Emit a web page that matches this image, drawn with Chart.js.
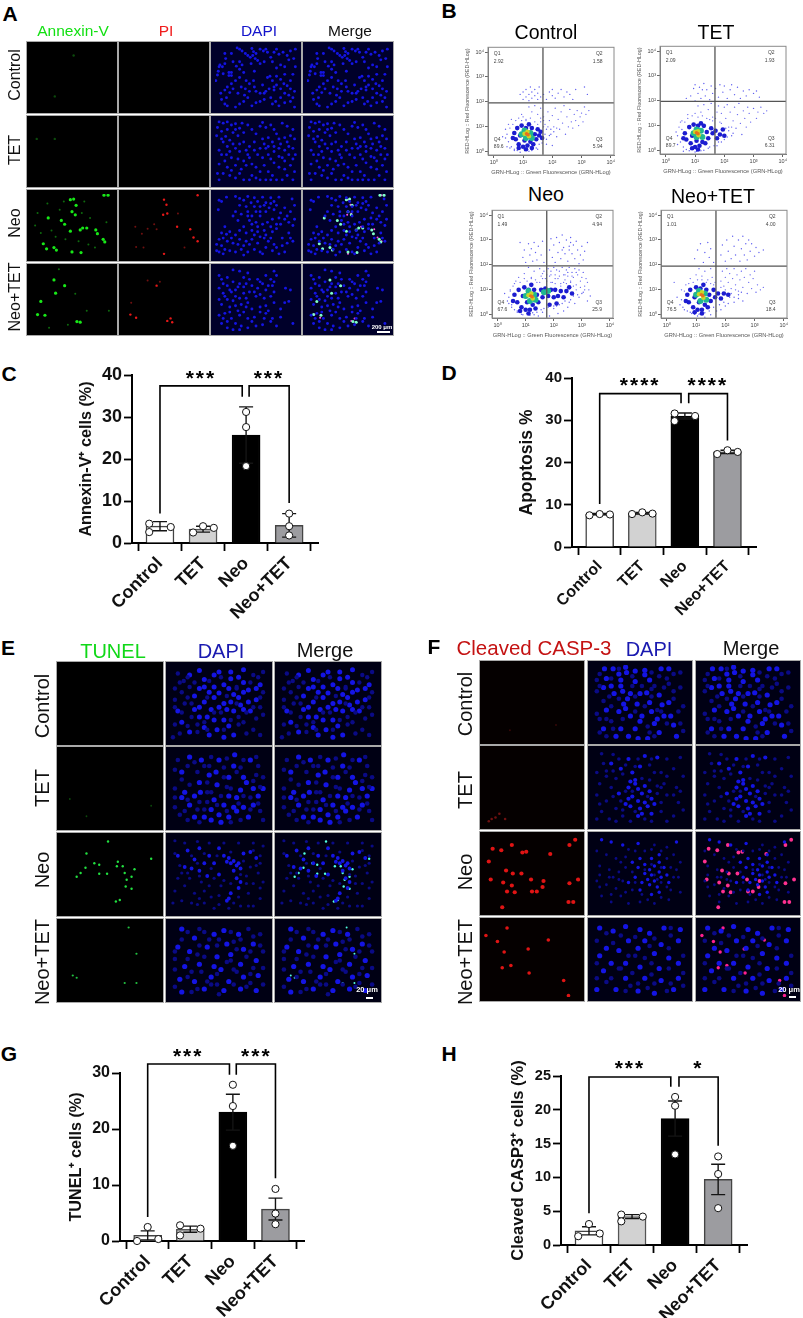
<!DOCTYPE html>
<html>
<head>
<meta charset="utf-8">
<script src="https://cdn.jsdelivr.net/npm/chart.js@4"></script>
<style>
body { margin:0; background:#fff; }
#page { position:relative; width:803px; height:1318px; overflow:hidden; font-family:"Liberation Sans",Arial,sans-serif; }
#page canvas { position:absolute; }
.tile { outline:1px solid #a9a9a9; }
.t { position:absolute; white-space:nowrap; transform:translate(-50%,-50%); line-height:1; }
.r { transform:translate(-50%,-50%) rotate(-90deg); }
.bar { position:absolute; background:#fff; height:2px; }
</style>
</head>
<body>
<div id="page"></div>
<script>
// bar chart data
const groups = ['Control', 'TET', 'Neo', 'Neo+TET'];

const annexinMean = [4, 3.3, 25.7, 4.2];
const annexinErr = [1.1, 0.7, 6.7, 2.8];
const annexinDots = [[-0.25,4.6],[-0.25,2.6],[0.25,3.8],[0.77,2.5],[1,4],[1.25,3.6],[2,31.2],[2,27.6],[2,18.3],[3,7],[3,4],[3,1.8]];
const apoptosisMean = [7.8, 8, 31, 22.5];
const apoptosisErr = [0.15, 0.2, 0.7, 0.4];
const apoptosisDots = [[-0.24,7.5],[0,7.8],[0.24,7.7],[0.76,7.8],[1,8.2],[1.24,7.9],[1.76,31.6],[1.76,29.8],[2.24,31],[2.76,22],[3,22.9],[3.24,22.5]];
const tunelMean = [1, 2.1, 23, 5.7];
const tunelErr = [0.8, 0.55, 3.2, 1.95];
const tunelDots = [[0,2.5],[-0.25,0],[0.25,0.35],[0.76,2.8],[0.76,1],[1.24,2.2],[2,27.9],[2,24.1],[2,17],[3,9.3],[3,4.9],[3,3]];
const caspMean = [2.1, 4.2, 18.7, 9.7];
const caspErr = [0.6, 0.3, 2.6, 2.25];
const caspDots = [[0,3.1],[-0.25,1.3],[0.25,1.7],[0.75,4.5],[0.75,3.5],[1.25,4.2],[2,21.9],[2,20.6],[2,13.4],[3,13.1],[3,10.5],[3,5.45]];

// significance brackets: x1, y1, top, x2, y2
const annexinBrackets = [[0,7,37.4,1.91,34.8],[2.07,34.8,37.4,3,9.5]];
const annexinStars = [[0.95,40,'***'],[2.53,40,'***']];
const apoptosisBrackets = [[0,10.2,36.3,1.91,34],[2.09,34,36.3,3,25.2]];
const apoptosisStars = [[0.95,39,'****'],[2.54,39,'****']];
const tunelBrackets = [[0,4.3,31.6,1.92,29.7],[2.08,29.7,31.6,3,11.2]];
const tunelStars = [[0.95,33.5,'***'],[2.55,33.5,'***']];
const caspBrackets = [[0,4.7,24.85,1.9,23.4],[2.09,23.4,24.85,3,14.7]];
const caspStars = [[0.95,26.6,'***'],[2.54,26.6,'*']];

// flow cytometry, values in decades (log10) on both axes
const flowTicks = [0, 1, 2, 3, 4];
const ctlGateX = [[1.68,-0.13],[1.68,4.19]];
const ctlGateY = [[-0.2,1.96],[4.11,1.96]];
const tetGateX = [[1.68,-0.13],[1.68,4.19]];
const tetGateY = [[-0.2,1.98],[4.11,1.98]];
const neoGateX = [[1.75,-0.13],[1.75,4.19]];
const neoGateY = [[-0.2,1.96],[4.11,1.96]];
const ntGateX = [[1.68,-0.13],[1.68,4.19]];
const ntGateY = [[-0.2,1.95],[4.11,1.95]];
const ctlQ = ['2.92','1.58','89.6','5.94'];
const tetQ = ['2.09','1.93','89.7','6.31'];
const neoQ = ['1.49','4.94','67.6','25.9'];
const ntQ = ['1.01','4.00','76.5','18.4'];

const ctlSparse = [.9,2.3,1,2.1,1,2.4,1.1,2.2,1.1,2.5,1.2,2.05,1.2,2.3,1.25,2.6,1.3,2.15,1.3,2.4,1.4,2.25,1.4,2.5,1.5,2.1,1.5,2.35,1.55,2.6,1.6,2.2,1.7,2.3,1.8,2.1,1.9,2.4,2,2.25,2,2.5,2.1,2.15,2.2,2.35,2.3,2.5,2.4,2.2,2.5,2.4,2.6,2.3,2.7,2.1,2.8,2.5,3.1,2.6,3.2,2.3,1.2,1.8,1.3,1.6,1.4,1.85,1.5,1.5,1.6,1.75,1.7,1.4,1.75,1.1,1.8,.9,1.85,1.6,1.9,1.25,1.95,.7,2,1.45,2.05,1,2.1,1.75,2.15,.6,2.2,1.3,2.25,.9,2.3,1.6,2.35,1.15,2.4,1.85,2.45,.7,2.5,1.4,2.55,1,2.6,1.7,2.65,1.2,2.7,.95,2.75,1.5,2.8,1.25,2.85,1.65,2.9,1.05,2.95,1.4,3,1.55,3.05,1.2,3.1,1.8,3.15,1.5,3.25,1.65,.4,.9,.3,.6,.45,.2,.6,1.3,.7,.05,.95,1.5,.9,-.02,1.1,1.25,1.35,.15,1.5,.1,1.8,.3,2,.25,.45,.7,.5,.4,.55,.95,.6,.2,.65,1.1,.7,.1,.75,1.25,.8,.05,.85,1.35,.95,1.25,1,1.4,1.05,.05,1.1,1.3,1.2,.02,1.25,1.35,1.3,.05,1.4,1.2,1.45,.15,1.5,1.1,1.55,.3,1.6,1.2,1.65,.35,1.7,1,1.75,.7,1.8,.5,1.85,1,1.9,.65,1.95,.9,2.05,.8,2.15,.95,.5,1.1,.4,.55,.55,.15,1.6,1.35,1.7,1.25];
const ctlHalo = [.7,.75,.75,.5,.8,.95,.85,.3,.9,.65,.95,1.05,1,.2,1.05,.45,1.1,.95,1.15,.25,1.2,1.1,1.25,.4,1.3,.95,1.35,.3,1.4,.7,1.45,.5,1.5,.9,1.55,.65,1.6,.8,.65,.55,.85,.15,1.1,.1,1.3,.15,1.65,.55];
const ctlCyan = [.95,.7,1.05,.85,1.1,.55,1.25,.75,1.3,.55];
const ctlGreen = [1.05,.72,1.15,.8,1.2,.62];
const ctlHot = [1.12,.72,1.17,.68];
const tetSparse = [.85,2.2,.95,2.5,1,2,1,2.65,1.1,2.3,1.15,2.55,1.2,2.1,1.25,2.45,1.3,2.7,1.35,2.2,1.4,2.45,1.5,2.05,1.55,2.6,1.6,2.3,1.7,2.5,1.8,2.15,1.85,2.65,1.95,2.35,2,2.6,2.1,2.1,2.2,2.45,2.25,2.65,2.35,2.25,2.45,2.55,2.55,2.1,2.65,2.4,2.75,2.2,2.85,2.45,3,2.3,3.1,2.4,3.2,2.15,.7,2.1,1.1,1.8,1.2,1.55,1.3,1.85,1.45,1.65,1.55,1.9,1.6,1.35,1.75,1.55,1.8,1.8,1.85,1.15,1.9,1.5,2,1.75,2,.45,2.05,1.3,2.1,1.85,2.15,.95,2.2,1.55,2.25,.6,2.3,1.2,2.35,1.75,2.4,.9,2.45,1.45,2.5,1.9,2.55,1.1,2.6,.65,2.65,1.6,2.7,1.3,2.75,.95,2.8,1.75,2.85,1.5,2.9,1.15,3,1.7,3.1,1.3,3.15,1.55,3.25,1.75,3.35,1.5,3.45,1.6,.35,.75,.4,.25,.55,1.2,.6,-.02,.75,1.45,.85,.05,1,-.05,1.2,0,1.5,.15,1.75,.2,1.9,.35,.4,.6,.45,.95,.5,.35,.55,.85,.6,.15,.65,1.15,.7,.05,.75,1.3,.8,0,.9,1.4,1,1.5,1.05,-.02,1.1,1.35,1.25,1.4,1.3,.02,1.4,1.3,1.45,.1,1.5,1.25,1.6,1.2,1.65,.2,1.7,1.3,1.8,.35,1.9,1.1,2.05,.9,2.1,.55,2.15,.8,2.25,.95,2.3,.7,.5,1.15];
const tetHalo = [.65,.7,.7,.45,.8,.95,.85,.3,.9,.6,.95,1.05,1,.15,1.05,.4,1.1,1,1.15,.2,1.2,1.1,1.25,.35,1.3,1,1.35,.3,1.4,.75,1.45,.5,1.55,.9,1.6,.7,1.7,.8,1.85,.65,1.95,.85,2,.6,1.75,.5,.6,.5,.9,.1,1.1,.05];
const tetCyan = [.95,.7,1.05,.85,1.05,.55,1.2,.8,1.25,.55];
const tetGreen = [1,.75,1.1,.78,1.12,.62];
const tetHot = [1.05,.72,1.1,.68];
const neoSparse = [.8,2.9,.9,2.3,.95,2.6,1,2.1,1.1,2.85,1.15,2.4,1.2,2.65,1.25,2.15,1.3,2.9,1.35,2.5,1.4,2.2,1.45,2.75,1.55,2.4,1.6,2.95,1.65,2.1,1.85,2.6,1.9,3.05,1.95,2.3,2,2.8,2.05,2.1,2.1,3.1,2.15,2.5,2.2,2.9,2.25,2.25,2.3,3.2,2.35,2.7,2.4,2.45,2.45,3,2.5,2.15,2.55,2.75,2.6,3.1,2.65,2.45,2.7,2.8,2.75,2.25,2.8,2.95,2.85,2.6,2.9,2.05,2.95,2.4,3,2.75,3.05,2.2,3.1,2.55,3.2,2.9,2.3,2.6,2.55,2.6,2.6,2.9,1.1,1.9,1.2,1.5,1.3,1.75,1.4,1.3,1.5,1.85,1.55,1.55,1.65,1.75,1.7,1.45,1.8,1.85,1.85,1.55,1.9,1.75,1.95,1.3,2,1.9,2.05,1.6,2.1,1.8,2.15,1.45,2.2,1.75,2.25,1.25,2.3,1.9,2.35,1.6,2.4,1.4,2.45,1.8,2.5,1.55,2.55,1.9,2.6,1.3,2.65,1.7,2.7,1.5,2.75,1.85,2.8,1.2,2.85,1.6,2.9,1.8,2.95,1.35,3,1.5,3.05,1.7,3.1,1.15,3.15,1.45,3.2,1.3,3.25,1,3.05,.9,2.9,.7,2.75,.45,2.6,.6,2.5,.3,2.35,.15,2.15,.05,2,.35,1.85,-.05,1.6,.1,1.45,-.05,1.3,0,.9,0,.7,.15,.5,.3,.35,.55,.25,.85,.45,1,.6,1.25,.75,1.5,.95,1.65,.4,.45,3.3,.75,3.2,.55,.4,.7,.45,.95,.5,.4,.55,1.15,.6,.2,.65,1.35,.7,.1,.8,1.3,.85,.02,.95,1.45,1.05,1.35,1.15,-.02,1.2,1.45,1.25,.08,1.35,1.4,1.4,.1,1.5,1.3,1.55,.2,1.6,1.45,1.65,.25,1.75,1.35,1.8,.3,1.9,1.3,2,.25,2.05,1.25,2.1,.35,2.2,.4,2.25,1.15,2.3,.45,2.35,1.3,2.4,.55,2.45,1.25,2.55,.5,2.6,1.35,2.7,.75,2.7,1.15,2.8,1,2.85,.8,2.95,1.1,3,.85,3.1,1,1.6,1.65,1.75,1.6,1.9,1.6,2.05,1.45,2.2,1.55,2.4,1.6,2.5,1.7,2.65,1.55,2.8,1.7];
const neoHalo = [.6,.8,.7,.5,.75,1,.85,.3,.9,.75,.95,1.1,1,.2,1.05,.5,1.1,1,1.15,.2,1.2,1.2,1.25,.4,1.3,1,1.35,.25,1.4,.8,1.45,.5,1.55,1,1.6,.7,1.7,1.05,1.8,.75,1.9,1,2,.7,2.05,1,2.15,.75,2.25,.95,2.35,.7,2.45,.95,2.55,1.1,2.65,.85,.55,.55,.8,.15,1.1,.05,1.85,.4,2.1,.45];
const neoCyan = [1,.75,1.1,.95,1.15,.55,1.3,.8,1.35,.6,1.65,.9,1.8,.95];
const neoGreen = [1.1,.78,1.2,.85,1.25,.65];
const neoHot = [1.18,.75,1.23,.72];
const ntSparse = [.95,2.25,1.05,2.6,1.15,2.85,1.25,2.1,1.3,2.5,1.4,2.9,1.45,2.3,1.5,2.65,1.6,2.1,1.85,2.4,1.9,2.8,2,2.15,2.05,3,2.1,2.55,2.2,2.25,2.25,3.15,2.3,2.75,2.35,2.4,2.45,3,2.5,2.15,2.55,2.65,2.6,3.15,2.65,2.4,2.7,2.85,2.75,2.2,2.8,3,2.85,2.55,2.9,2.85,3,2.35,3.05,2.7,3.15,2.5,3.3,2.6,1.1,1.85,1.2,1.55,1.3,1.75,1.4,1.4,1.5,1.85,1.55,1.5,1.6,1.2,1.85,1.35,1.9,1.75,1.95,1.15,2,1.5,2.05,1.85,2.1,1.3,2.15,1.65,2.2,1.05,2.25,1.45,2.3,1.85,2.35,1.2,2.4,1.6,2.45,.95,2.5,1.4,2.55,1.75,2.6,1.1,2.65,1.5,2.7,1.85,2.75,.85,2.8,1.3,2.85,1.6,2.9,1.05,2.95,1.45,3,1.75,3.05,.9,3.1,1.2,3.2,1,3.3,1.1,2.6,.55,2.45,.65,2.3,.5,2.15,.7,2,.35,1.85,.2,1.7,.15,1.5,0,1.3,-.1,1.05,-.05,.85,.05,.6,.2,.45,.4,.35,.7,.5,1,.65,1.2,.8,1.45,1,1.6,.25,1.3,.5,.6,.55,.3,.6,.95,.7,.15,.75,1.25,.8,.1,.9,1.3,.95,.02,1.05,1.4,1.1,.02,1.2,1.4,1.3,.08,1.35,1.3,1.45,.15,1.5,1.25,1.6,.3,1.65,1.3,1.8,.4,1.85,1.1,1.95,.5,2,1,2.1,.45,2.2,.85,2.3,.7,2.35,1,2.45,.8,2.55,.9];
const ntHalo = [.7,.8,.75,.5,.8,1,.9,.3,.95,.7,1,1.1,1.05,.2,1.1,.5,1.15,1.05,1.2,.2,1.25,1.2,1.3,.4,1.35,1,1.4,.3,1.45,.8,1.5,.55,1.6,1,1.65,.7,1.75,.85,1.85,.65,1.95,.85,2.1,.8,.65,.55,.95,.1,1.2,.05];
const ntCyan = [1,.8,1.1,.95,1.15,.55,1.3,.85,1.35,.6];
const ntGreen = [1.1,.82,1.2,.9,1.25,.68];
const ntHot = [1.18,.8,1.23,.76];

const aDapiCtl = [12,12,13,20,12,28,6,30,5,33,9,33,3,46,1,55,17,42,20,42,17,47,20,47,27,3,30,5,33,8,37,12,40,15,43,18,46,15,49,20,52,23,50,12,47,9,55,5,59,8,64,10,60,25,55,28,75,5,78,13,83,10,88,15,92,8,98,5,96,20,90,22,80,30,85,33,98,33,30,25,33,30,30,37,35,42,30,50,25,55,20,60,15,65,12,70,18,74,14,82,8,85,28,75,32,65,37,68,42,60,47,55,50,72,55,75,60,75,64,50,67,48,70,55,75,48,72,65,66,68,72,70,80,53,84,60,88,63,92,68,97,72,85,75,80,82,74,88,70,92,78,95,85,90,92,88,97,97,40,82,35,88,30,92,25,97,45,95,15,95,50,90,55,88,60,85,4,40,10,44,22,25,26,32,44,28,48,40,38,55,42,72,36,78,22,68,7,75,12,92,48,65,58,62,62,72,68,82,75,62,80,68,90,78,95,82,92,55,95,45,85,45,75,35,70,25,68,18,62,5,72,10,45,4,20,12];
const aDapiTet = [5,3,10,5,15,3,20,8,25,6,25,15,3,12,8,18,15,15,22,20,28,25,30,13,35,20,33,5,40,8,45,15,50,22,55,10,58,4,62,12,68,8,72,15,75,22,82,5,88,10,95,15,92,25,85,28,78,30,70,35,65,28,60,38,55,45,48,35,42,42,35,35,38,48,30,50,22,38,15,42,10,35,5,48,8,55,14,55,20,60,28,62,35,65,42,60,45,70,50,75,38,72,32,78,25,72,15,75,10,85,18,88,25,92,30,85,45,88,50,92,42,95,58,60,65,55,72,50,78,45,85,48,95,45,90,55,82,60,72,68,60,72,55,82,65,82,70,88,78,75,85,78,92,72,97,82,88,88,75,95,82,95,95,95,5,95,62,95,2,25,8,30,13,26,18,32,30,38,25,45,40,55,52,55,58,30,65,42,72,42,80,38,88,35,97,30,98,55,90,42,68,62,48,48,12,65,5,70,3,85,20,80,35,95,55,95,68,95,85,65,78,58,95,62,62,45,18,50];
const aDapiNeo = [5,10,8,12,4,25,14,5,25,4,30,7,35,10,40,4,48,6,52,12,58,5,62,14,68,6,72,12,60,18,55,20,30,18,38,20,25,28,22,35,32,32,40,28,45,35,50,28,55,35,62,28,66,22,72,25,80,30,85,22,92,28,97,18,94,8,78,5,70,40,64,45,58,48,50,45,42,42,85,40,90,45,95,50,80,48,75,55,70,60,60,58,52,60,45,58,38,62,30,58,25,65,18,60,10,70,5,72,2,80,8,82,15,75,22,78,30,72,38,75,45,72,52,78,60,70,65,75,72,80,82,70,90,62,88,78,95,75,12,52,10,95,18,90,25,92,32,88,40,92,48,88,55,92,62,85,70,90,78,95,85,92,58,95,35,97,5,92,8,62,14,64,20,70,28,80,35,82,42,80,48,65,55,68,62,65,68,52,75,48,78,38,88,35,97,40,92,70,82,82,75,85,68,70,45,48,35,52,40,35,28,42,52,52,48,20,44,14,55,28,68,15,75,18,12,88,2,90];
const aDapiNt = [22,3,30,5,40,8,72,5,75,12,52,18,55,22,5,12,8,18,15,15,22,22,30,25,38,25,45,28,52,32,65,28,70,28,72,22,15,28,5,32,10,40,20,38,25,35,35,40,42,38,50,45,60,48,68,45,30,48,22,52,15,50,5,50,8,58,25,60,32,58,40,55,55,62,62,60,65,68,72,55,85,55,90,53,92,35,86,32,12,72,18,70,5,75,10,80,15,85,30,75,35,70,40,80,45,85,25,88,32,92,40,95,30,98,50,92,58,90,60,80,68,85,75,92,80,78,10,25,18,35,28,30,35,30,48,38,55,42,62,35,58,25,25,45,38,48,12,45,18,62,28,68,38,62,45,65,20,80,8,88,55,70,62,72,70,80,48,78,72,38,62,12,68,18,35,15,42,18,80,65,95,88,15,95,22,98];
const aGreenCtl = [52,15,29,80];
const aGreenTet = [29,30,7,30];
const aGreenNeo = [89,2,94,2,52,8,48,9,55,18,50,28,54,33,21,38,37,42,41,48,68,54,79,57,48,59,81,63,88,72,90,76,15,79,28,85,19,87,50,92,61,93,31,89,63,54,60,57];
const aGreenNeoDim = [8,30,20,15,35,25,62,30,72,38,25,58,30,68,42,72,58,75,70,80,78,85,12,62,5,50,92,45,40,12,65,12];
const aGreenNt = [41,28,28,19,30,40,12,53,8,74,17,75,56,85,60,86];
const aGreenNtDim = [54,41,34,2,45,90,22,95,68,68,95,68];
const aRedNeo = [50,9,91,2,53,17,49,33,54,31,66,52,82,56,86,69,91,75,50,95];
const aRedNeoDim = [25,85,16,84,38,48,23,63,67,31,41,56,75,85,30,55,15,52];
const aRedNt = [41,28,9,74,16,79,58,80,54,84,60,86];
const aRedNtDim = [30,20,10,55,45,22];

const eDapiCtl = [20,12,30,6,35,18,45,12,50,8,62,8,75,5,70,15,62,17,75,22,55,25,45,28,35,28,30,30,40,35,50,36,60,30,65,38,75,35,70,42,80,32,88,30,92,25,88,45,80,48,72,52,62,48,55,50,45,42,35,48,30,55,42,58,50,55,58,58,65,60,75,58,82,60,38,68,45,72,55,72,48,85,60,80,65,92,40,92,55,95,35,82,30,68,25,58,20,88,12,75,8,60,25,40];
const eDimCtl = [8,10,14,20,5,30,12,35,20,28,5,45,15,50,92,55,95,65,88,70,75,75,85,85,92,92,10,90,28,78,70,68,95,8,85,12,3,95,22,68,78,90,10,22,18,15,25,22,40,20,52,15,68,28,82,22,90,15,95,35,85,55,92,42,78,62,68,50,5,55,12,62,18,42,22,50,38,42,58,40,68,30,52,62,45,62,35,75,28,88,38,85,55,85,70,78,62,72,5,78,18,80];
const eDapiTet = [66,5,20,8,32,12,50,12,47,28,65,20,82,12,75,35,60,35,48,45,30,42,25,60,31,55,15,55,20,72,12,62,45,65,60,60,68,62,72,52,65,75,55,72,50,85,42,78,35,88,42,92,52,95,60,88,68,80,75,75,80,88,85,72,90,60,95,50,85,50,78,42,40,32,12,28,25,88];
const eDimTet = [8,12,12,38,28,28,35,20,42,8,55,22,72,22,90,20,95,35,88,32,5,50,5,75,10,85,18,92,30,68,58,48,82,62,92,80,95,92,72,92,38,55,5,25,18,20,25,15,40,20,58,10,75,12,88,8,55,35,68,28,85,40,92,48,20,45,38,42,42,55,5,62,18,65,28,78,38,68,52,60,62,50,75,60,90,70,70,70,58,80,48,72,35,78,15,80,82,78,30,95,62,95];
const eDapiNeo = [55,25,60,28,58,33,62,35,65,32,68,38,70,35,72,42,65,45,68,55,72,60,70,68,62,75,60,82,58,85,15,40,22,42,30,45,25,30,35,35,40,25,50,15,45,35,38,52,50,50,75,22,82,20,88,28,30,15,18,18,8,25];
const eDimNeo = [5,5,15,8,28,6,40,8,55,8,70,8,85,8,95,12,92,35,82,40,90,48,95,60,85,62,80,75,92,82,85,92,72,92,60,95,50,90,42,80,35,72,25,75,15,65,8,55,5,72,12,85,28,90,40,65,52,65,78,52,20,55,32,60,22,25,35,22,48,25,62,20,75,32,88,38,78,62,62,62,55,58,45,55,30,52,18,48,10,38,5,22,35,88,45,95,22,88,70,80,92,25,12,48,28,35,42,42,50,78,65,88,80,92,92,68,3,88,30,82,72,50,85,18];
const eDapiNt = [55,10,45,15,25,20,12,8,70,15,58,28,38,32,20,38,48,45,62,42,75,35,85,28,8,32,30,55,52,62,72,55,88,50,15,58,42,72,60,78,75,72,90,70,25,78,10,75,35,88,55,90,72,88,88,90,12,92,45,58];
const eDimNt = [30,8,80,8,92,15,5,48,40,22,65,25,28,42,95,38,58,52,78,45,22,65,65,62,5,62,48,82,82,80,22,92,95,82,18,12,35,12,50,22,62,12,72,22,85,18,12,22,30,30,48,30,68,35,82,38,18,48,35,45,62,50,85,60,5,85,32,65,48,68,68,65,82,68,95,60,18,72,28,88,42,82,65,82,78,85,50,95,5,38,92,30,38,78];
const eGreenTet = [9,64,26,87,92,73];
const eGreenNeo = [48,6,26,22,39,37,34,35,58,33,63,39,57,39,75,43,92,29,65,48,72,53,67,57,72,69,66,66,60,84,56,86,20,48,16,53,25,41,47,49,39,49];
const eGreenNt = [12,70,16,73,77,41,77,80,69,6,65,80];

const fDapiCtl = [13,5,22,5,35,3,45,8,55,7,72,5,80,5,15,18,28,12,36,10,30,20,45,22,55,13,60,20,12,30,20,28,30,28,40,38,50,38,57,37,70,40,32,35,23,38,37,45,47,52,60,50,73,53,80,50,15,60,35,58,33,52,28,62,40,68,52,68,62,62,68,72,75,68,82,68,50,75,65,78,45,85,30,85,12,85,25,95,38,95,48,98,58,98,70,90,88,95,85,80];
const fDimCtl = [5,20,5,35,12,48,20,55,5,65,8,90,62,32,80,25,85,35,92,30,95,55,90,62,60,90,20,75,15,72,70,15,85,12,8,12,20,18,28,5,42,15,62,10,78,18,92,10,8,28,18,42,28,45,42,28,52,28,65,28,75,30,85,45,68,60,62,42,45,62,8,72,22,85,32,72,58,82,78,78,92,78,95,88,65,95,15,95,72,62,55,55,45,42];
const fDapiTet = [40,42,45,45,38,50,48,52,55,48,52,58,60,55,42,62,48,68,55,70,38,65,62,65,58,75,50,78,40,75,35,72,65,72,52,85,48,88,62,85,30,25,42,30,50,22,68,10,55,8,38,12,20,18,45,40,28,58];
const fDimTet = [10,5,22,6,28,12,12,18,5,30,15,35,25,38,8,45,20,50,5,60,15,68,25,78,10,82,18,92,32,88,40,95,72,30,85,25,75,45,88,50,78,60,90,70,72,82,85,88,65,30,60,20,92,10,78,12,95,35,15,28,32,32,22,28,35,55,30,68,22,62,32,80,45,82,55,92,62,95,72,70,68,58,72,50,60,40,52,38,45,22,35,20,48,12,62,12,42,55,58,62,68,48,78,35,85,60,92,55,95,80,8,72,5,92,25,95,78,95];
const fDapiNeo = [60,45,65,40,70,35,55,50,62,52,70,48,75,42,58,58,65,60,72,55,60,65,68,68,52,62,78,52,45,55,48,42,55,38,62,30,70,25,42,35,50,30,10,5,20,8,32,12,48,10,88,8,38,62,70,75,62,78,50,72,80,62];
const fDimNeo = [5,20,15,25,25,30,35,28,8,40,18,45,28,48,5,60,15,65,25,70,35,75,10,80,20,88,38,90,50,88,65,90,80,85,92,75,90,55,92,35,85,25,78,15,65,12,22,55,32,60,88,45,45,20,38,18,55,20,62,18,72,20,30,35,35,42,42,48,28,58,18,55,8,52,8,68,20,78,30,80,42,72,45,62,52,78,58,85,72,82,82,72,85,55,82,42,78,30,72,62,65,52,55,45,62,38,72,42,78,68,68,58];
const fDapiNt = [8,8,22,12,35,6,50,10,60,15,75,8,92,10,38,25,55,25,72,30,90,25,15,35,28,38,48,35,8,45,65,42,80,48,35,55,20,55,50,60,70,62,90,55,12,65,35,75,55,75,72,78,90,75,5,90,25,90,48,92,65,95,85,90];
const fDimNt = [5,25,82,18,30,62,62,55,45,45,95,45,15,80,40,85,78,92,15,15,30,18,45,20,65,22,82,8,22,28,60,32,80,35,38,45,55,48,5,55,28,62,42,68,62,70,80,62,20,75,5,75,48,82,65,82,82,82,95,68,95,85,35,92,58,88];
const fRedCtl = [27,87,75,80];
const fRedTet = [16,85,8,92,5,95,12,90,22,92];
const fRedNeo = [9,17,18,19,29,12,40,22,44,21,95,5,89,12,5,34,23,46,30,50,39,50,7,58,20,62,49,58,62,60,89,63,29,66,32,75,24,74,50,74,55,74,61,68,88,88,93,88,19,95,69,24,98,58];
const fRedNt = [24,8,14,26,46,36,21,40,19,61,28,58,47,68,83,78,88,98,2,18,67,24];

function pts(flat) {
    const out = [];
    for (let i = 0; i < flat.length; i += 2) out.push({ x: flat[i], y: flat[i + 1] });
    return out;
}
function pairs(list) {
    return list.map(p => ({ x: p[0], y: p[1] }));
}

Chart.defaults.animation = false;
Chart.defaults.plugins.legend.display = false;
Chart.defaults.plugins.tooltip.enabled = false;
Chart.defaults.font.family = '"Liberation Sans", Arial, sans-serif';

const page = document.getElementById('page');
const BLUE = '#1414e4';
const DIM = '#0a0a86';

function addCanvas(left, top, w, h, cls) {
    const c = document.createElement('canvas');
    c.width = w;
    c.height = h;
    c.style.left = left + 'px';
    c.style.top = top + 'px';
    c.style.width = w + 'px';
    c.style.height = h + 'px';
    if (cls) c.className = cls;
    page.appendChild(c);
    return c;
}

function label(text, x, y, size, color, opts) {
    opts = opts || {};
    const d = document.createElement('div');
    d.className = 't' + (opts.rot ? ' r' : '');
    d.textContent = text;
    d.style.left = x + 'px';
    d.style.top = y + 'px';
    d.style.fontSize = size + 'px';
    d.style.color = color;
    if (opts.bold) d.style.fontWeight = 'bold';
    page.appendChild(d);
}

function scaleBar(x, y, w) {
    const d = document.createElement('div');
    d.className = 'bar';
    d.style.left = x + 'px';
    d.style.top = y + 'px';
    d.style.width = w + 'px';
    page.appendChild(d);
}

// one microscopy tile: layers are [points, colour, radius]
function tile(x, y, w, h, bg, layers) {
    const c = addCanvas(x, y, w, h, 'tile');
    c.style.background = bg;
    new Chart(c, {
        type: 'scatter',
        data: {
            datasets: layers.map(l => ({
                data: pts(l[0]),
                pointBackgroundColor: l[1],
                pointBorderWidth: 0,
                pointRadius: l[2]
            }))
        },
        options: {
            responsive: false,
            layout: { padding: 0 },
            scales: {
                x: { display: false, min: 0, max: 100 },
                y: { display: false, min: 0, max: 100, reverse: true }
            }
        }
    });
}

// bar chart with error bars, dots and brackets
const barExtras = {
    id: 'barExtras',
    afterDatasetDraw(chart, args, o) {
        if (args.index !== 0) return;
        const ctx = chart.ctx, xs = chart.scales.x, ys = chart.scales.y;
        ctx.save();
        ctx.strokeStyle = o.errColor;
        ctx.lineWidth = 1.4;
        o.mean.forEach((m, i) => {
            const px = xs.getPixelForValue(i);
            const hi = ys.getPixelForValue(m + o.err[i]);
            const lo = ys.getPixelForValue(m - o.err[i]);
            ctx.beginPath();
            ctx.moveTo(px, hi); ctx.lineTo(px, lo);
            ctx.moveTo(px - 7, hi); ctx.lineTo(px + 7, hi);
            ctx.moveTo(px - 7, lo); ctx.lineTo(px + 7, lo);
            ctx.stroke();
        });
        ctx.restore();
    },
    afterDraw(chart, args, o) {
        const ctx = chart.ctx, xs = chart.scales.x, ys = chart.scales.y;
        ctx.save();
        ctx.strokeStyle = '#000';
        ctx.lineWidth = 1.6;
        o.brackets.forEach(b => {
            ctx.beginPath();
            ctx.moveTo(xs.getPixelForValue(b[0]), ys.getPixelForValue(b[1]));
            ctx.lineTo(xs.getPixelForValue(b[0]), ys.getPixelForValue(b[2]));
            ctx.lineTo(xs.getPixelForValue(b[3]), ys.getPixelForValue(b[2]));
            ctx.lineTo(xs.getPixelForValue(b[3]), ys.getPixelForValue(b[4]));
            ctx.stroke();
        });
        ctx.fillStyle = '#000';
        ctx.font = 'bold 21px "Liberation Sans"';
        ctx.textAlign = 'center';
        ctx.textBaseline = 'middle';
        ctx.letterSpacing = '2px';
        o.stars.forEach(s => {
            ctx.fillText(s[2], xs.getPixelForValue(s[0]), ys.getPixelForValue(s[1]) + 4);
        });
        ctx.restore();
    }
};

function barPanel(cfg) {
    const axisW = 72, topPad = 32, xH = 85, rightPad = 20;
    const w = axisW + cfg.plotW + rightPad, h = topPad + cfg.plotH + xH;
    const left = cfg.plotX - axisW;
    const c = addCanvas(left, cfg.plotY - topPad, w, h);
    const titlePad = cfg.titleX - left - cfg.titleSize * 0.6;
    new Chart(c, {
        type: 'bar',
        data: {
            datasets: [
                {
                    type: 'bar',
                    order: 2,
                    data: cfg.mean.map((v, i) => ({ x: i, y: v })),
                    backgroundColor: ['#ffffff', '#d2d2d2', '#000000', '#9c9ca0'],
                    borderColor: ['#444', '#555', '#000', '#444'],
                    borderWidth: 1.5,
                    barThickness: 28
                },
                {
                    type: 'scatter',
                    order: 1,
                    clip: false,
                    data: pairs(cfg.dots),
                    pointBackgroundColor: '#fff',
                    pointBorderColor: '#111',
                    pointBorderWidth: 1,
                    pointRadius: 3.6
                }
            ]
        },
        options: {
            responsive: false,
            layout: { padding: { top: topPad, right: rightPad, left: 0, bottom: 0 } },
            plugins: {
                barExtras: { mean: cfg.mean, err: cfg.err, brackets: cfg.brackets, stars: cfg.stars, errColor: '#141414' }
            },
            scales: {
                x: {
                    type: 'linear',
                    offset: false,
                    min: -0.65,
                    max: 3.67,
                    afterBuildTicks(s) { s.ticks = groups.map((g, i) => ({ value: i })); },
                    afterFit(s) { s.height = xH; },
                    grid: { display: true, drawOnChartArea: false, tickLength: 8, tickColor: '#000', tickWidth: 1.8 },
                    border: { display: true, color: '#000', width: 2 },
                    ticks: {
                        autoSkip: false,
                        minRotation: 45,
                        maxRotation: 45,
                        padding: 2,
                        color: '#111',
                        font: { size: cfg.xSize, weight: 'bold' },
                        callback: v => groups[v]
                    }
                },
                y: {
                    min: 0,
                    max: cfg.max,
                    afterBuildTicks(s) { s.ticks = cfg.ticks.map(v => ({ value: v })); },
                    afterFit(s) { s.width = axisW; },
                    grid: { display: true, drawOnChartArea: false, tickLength: 8, tickColor: '#000', tickWidth: 1.8 },
                    border: { display: true, color: '#000', width: 2 },
                    ticks: { padding: 2, color: '#111', font: { size: cfg.ySize, weight: 'bold' } },
                    title: {
                        display: true,
                        text: cfg.title,
                        color: '#111',
                        padding: { top: titlePad, bottom: 0 },
                        font: { size: cfg.titleSize, weight: 'bold' }
                    }
                }
            }
        },
        plugins: [barExtras]
    });
}

// flow cytometry plot
const flowExtras = {
    id: 'flowExtras',
    afterDraw(chart, args, o) {
        const ctx = chart.ctx, a = chart.chartArea, xs = chart.scales.x, ys = chart.scales.y;
        ctx.save();
        ctx.strokeStyle = '#8a8a8a';
        ctx.lineWidth = 1;
        ctx.strokeRect(a.left, a.top, a.right - a.left, a.bottom - a.top);
        ctx.fillStyle = '#444';
        ctx.font = '5px "Liberation Sans"';
        ctx.textBaseline = 'middle';
        const tx = (s, x, y, al) => {
            ctx.textAlign = al;
            ctx.fillText(s, xs.getPixelForValue(x), ys.getPixelForValue(y));
        };
        tx('Q1', 0.0, 3.95, 'left'); tx(o.q[0], 0.0, 3.63, 'left');
        tx('Q2', 3.72, 3.95, 'right'); tx(o.q[1], 3.72, 3.63, 'right');
        tx('Q4', 0.0, 0.5, 'left'); tx(o.q[2], 0.0, 0.2, 'left');
        tx('Q3', 3.72, 0.5, 'right'); tx(o.q[3], 3.72, 0.2, 'right');
        ctx.restore();
    }
};

function flowPanel(x, y, w, h, q, gateX, gateY, sparse, halo, cyan, green, hot) {
    const axisW = 26, xH = 22, pad = 4;
    const c = addCanvas(x - axisW, y - pad, w + axisW + pad, h + pad + xH);
    const dots = (data, color, r) => ({ data: pts(data), pointBackgroundColor: color, pointBorderWidth: 0, pointRadius: r });
    const gate = d => ({ data: pairs(d), showLine: true, borderColor: '#555', borderWidth: 1.3, pointRadius: 0 });
    new Chart(c, {
        type: 'scatter',
        data: {
            datasets: [
                gate(gateX), gate(gateY),
                dots(hot, '#e8701c', 1.8),
                dots(green, '#c8d828', 2.3),
                dots(cyan, '#20b890', 3),
                dots(halo, '#1c1cd0', 2.3),
                dots(sparse, '#6060f0', 0.7)
            ]
        },
        options: {
            responsive: false,
            layout: { padding: { top: pad, right: pad, left: 0, bottom: 0 } },
            plugins: { flowExtras: { q: q } },
            scales: {
                x: {
                    type: 'linear',
                    min: -0.2,
                    max: 4.11,
                    afterBuildTicks(s) { s.ticks = flowTicks.map(v => ({ value: v })); },
                    afterFit(s) { s.height = xH; },
                    grid: { drawOnChartArea: false, tickLength: 3, tickColor: '#666' },
                    border: { color: '#777' },
                    ticks: { padding: 1, color: '#444', font: { size: 5.5 }, callback: v => '10' + '⁰¹²³⁴'[v], maxRotation: 0 },
                    title: { display: true, text: 'GRN-HLog :: Green Fluorescence (GRN-HLog)', color: '#555', padding: { top: 1, bottom: 1 }, font: { size: 5.7 } }
                },
                y: {
                    min: -0.13,
                    max: 4.19,
                    afterBuildTicks(s) { s.ticks = flowTicks.map(v => ({ value: v })); },
                    afterFit(s) { s.width = axisW; },
                    grid: { drawOnChartArea: false, tickLength: 3, tickColor: '#666' },
                    border: { color: '#777' },
                    ticks: { padding: 1, color: '#444', font: { size: 5.5 }, callback: v => '10' + '⁰¹²³⁴'[v] },
                    title: { display: true, text: 'RED-HLog :: Red Fluorescence (RED-HLog)', color: '#555', padding: { top: 2, bottom: 1 }, font: { size: 5.3 } }
                }
            }
        },
        plugins: [flowExtras]
    });
}

// panel A
const aX = [27, 119, 211, 303], aY = [42, 116, 190, 264];
const NAVY = '#00002a', BK = '#000';
const GA = '#18e818', RA = '#e81818';
const aGreens = [[[aGreenCtl, '#0c4a0c', 1.2]], [[aGreenTet, '#0c4a0c', 1.2]], [[aGreenNeoDim, '#0e6a0e', 1], [aGreenNeo, GA, 1.6]], [[aGreenNtDim, '#0e6a0e', 1], [aGreenNt, GA, 1.6]]];
const aReds = [[], [], [[aRedNeoDim, '#701010', 1], [aRedNeo, RA, 1.2]], [[aRedNtDim, '#701010', 1], [aRedNt, RA, 1.2]]];
const aDapi = [aDapiCtl, aDapiTet, aDapiNeo, aDapiNt];
aY.forEach((y, i) => {
    tile(aX[0], y, 90, 71, BK, aGreens[i]);
    tile(aX[1], y, 90, 71, BK, aReds[i]);
    tile(aX[2], y, 90, 71, NAVY, [[aDapi[i], BLUE, 1.45]]);
    const over = i < 2 ? [] : [[i === 2 ? aGreenNeo : aGreenNt, '#7dffc8', 1.5], [i === 2 ? aRedNeo : aRedNt, '#ff50e0', 1]];
    tile(aX[3], y, 90, 71, NAVY, [[aDapi[i], BLUE, 1.45]].concat(over));
});

// panel E
const eX = [57, 166, 275], eW = 106, eY = [662, 747, 833, 919], eH = 83;
const eBright = [eDapiCtl, eDapiTet, eDapiNeo, eDapiNt];
const eDimmed = [eDimCtl, eDimTet, eDimNeo, eDimNt];
const eGreens = [[], [[eGreenTet, '#0c4a0c', 0.9]], [[eGreenNeo, '#22e040', 1.2]], [[eGreenNt, '#22c040', 1.1]]];
const eR = [2.5, 2.6, 1.9, 2.6];
eY.forEach((y, i) => {
    const dapi = [[eDimmed[i], DIM, eR[i] - 0.3], [eBright[i], BLUE, eR[i]]];
    tile(eX[0], y, eW, eH, BK, eGreens[i]);
    tile(eX[1], y, eW, eH, '#000014', dapi);
    const over = i === 2 ? [[eGreenNeo, '#50ffe0', 1.2]] : i === 3 ? [[eGreenNt, '#50ffe0', 1]] : [];
    tile(eX[2], y, eW, eH, '#000014', dapi.concat(over));
});

// panel F
const fX = [480, 588, 696], fW = 104, fY = [661, 746, 832, 918], fH = 83;
const fBright = [fDapiCtl, fDapiTet, fDapiNeo, fDapiNt];
const fDimmed = [fDimCtl, fDimTet, fDimNeo, fDimNt];
const fReds = [[[fRedCtl, '#3c0808', 0.9]], [[fRedTet, '#701010', 1.3]], [[fRedNeo, '#e01414', 2.1]], [[fRedNt, '#e01414', 1.8]]];
const fR = [2.6, 2.1, 1.7, 2.6];
fY.forEach((y, i) => {
    const dapi = [[fDimmed[i], DIM, fR[i] - 0.3], [fBright[i], BLUE, fR[i]]];
    tile(fX[0], y, fW, fH, '#050000', fReds[i]);
    tile(fX[1], y, fW, fH, '#000014', dapi);
    const over = i === 2 ? [[fRedNeo, '#ff3090', 1.9]] : i === 3 ? [[fRedNt, '#ff2090', 1.7]] : [];
    tile(fX[2], y, fW, fH, '#000014', dapi.concat(over));
});

// panel B
flowPanel(488, 47, 126, 108, ctlQ, ctlGateX, ctlGateY, ctlSparse, ctlHalo, ctlCyan, ctlGreen, ctlHot);
flowPanel(660, 46, 126, 108, tetQ, tetGateX, tetGateY, tetSparse, tetHalo, tetCyan, tetGreen, tetHot);
flowPanel(492, 210, 121, 108, neoQ, neoGateX, neoGateY, neoSparse, neoHalo, neoCyan, neoGreen, neoHot);
flowPanel(661, 210, 126, 108, ntQ, ntGateX, ntGateY, ntSparse, ntHalo, ntCyan, ntGreen, ntHot);

// panels C, D, G, H
barPanel({ plotX: 132, plotY: 375, plotW: 186, plotH: 168, max: 40, ticks: [0,10,20,30,40], mean: annexinMean, err: annexinErr, dots: annexinDots, brackets: annexinBrackets, stars: annexinStars, title: 'Annexin-V⁺ cells (%)', titleX: 87, titleSize: 16.2, xSize: 18, ySize: 18 });
barPanel({ plotX: 572, plotY: 378, plotW: 184, plotH: 169, max: 40, ticks: [0,10,20,30,40], mean: apoptosisMean, err: apoptosisErr, dots: apoptosisDots, brackets: apoptosisBrackets, stars: apoptosisStars, title: 'Apoptosis %', titleX: 527, titleSize: 17.5, xSize: 16, ySize: 15 });
barPanel({ plotX: 120, plotY: 1073, plotW: 184, plotH: 168, max: 30, ticks: [0,10,20,30], mean: tunelMean, err: tunelErr, dots: tunelDots, brackets: tunelBrackets, stars: tunelStars, title: 'TUNEL⁺ cells (%)', titleX: 77, titleSize: 16.2, xSize: 18, ySize: 16 });
barPanel({ plotX: 561, plotY: 1076, plotW: 186, plotH: 169, max: 25, ticks: [0,5,10,15,20,25], mean: caspMean, err: caspErr, dots: caspDots, brackets: caspBrackets, stars: caspStars, title: 'Cleaved CASP3⁺ cells (%)', titleX: 518, titleSize: 16.5, xSize: 18, ySize: 14.5 });

// text
[['A',10,13],['B',449,10],['C',9,373],['D',449,372],['E',8,647],['F',434,646],['G',9,1053],['H',449,1053]].forEach(p => label(p[0], p[1], p[2], 21, '#000', { bold: true }));

label('Annexin-V', 73, 31, 15.5, '#12e012');
label('PI', 166, 31, 15.5, '#f01c1c');
label('DAPI', 259, 31, 15.5, '#1414cc');
label('Merge', 350, 31, 15.5, '#111');
groups.forEach((g, i) => label(g, 15, [75, 150, 223, 297][i], 16, '#111', { rot: true }));

label('Control', 546, 33, 19.5, '#000');
label('TET', 716, 33, 19.5, '#000');
label('Neo', 546, 195, 19.5, '#000');
label('Neo+TET', 713, 197, 19.5, '#000');

label('TUNEL', 113, 651, 20, '#10d818');
label('DAPI', 221, 651, 20, '#1a1ab0');
label('Merge', 325, 650, 20, '#111');
groups.forEach((g, i) => label(g, 42, [706, 788, 870, 962][i], 20, '#111', { rot: true }));

label('Cleaved CASP-3', 534, 648, 20.5, '#c41212');
label('DAPI', 649, 649, 20, '#1a1ab0');
label('Merge', 751, 648, 20, '#111');
groups.forEach((g, i) => label(g, 465, [704, 790, 872, 962][i], 20, '#111', { rot: true }));

label('200 μm', 382, 327, 6, '#fff', { bold: true });
scaleBar(377, 331, 13);
label('20 μm', 367, 990, 7.5, '#fff', { bold: true });
scaleBar(366, 997, 7);
label('20 μm', 789, 990, 7.5, '#fff', { bold: true });
scaleBar(789, 996, 7);
</script>
</body>
</html>
